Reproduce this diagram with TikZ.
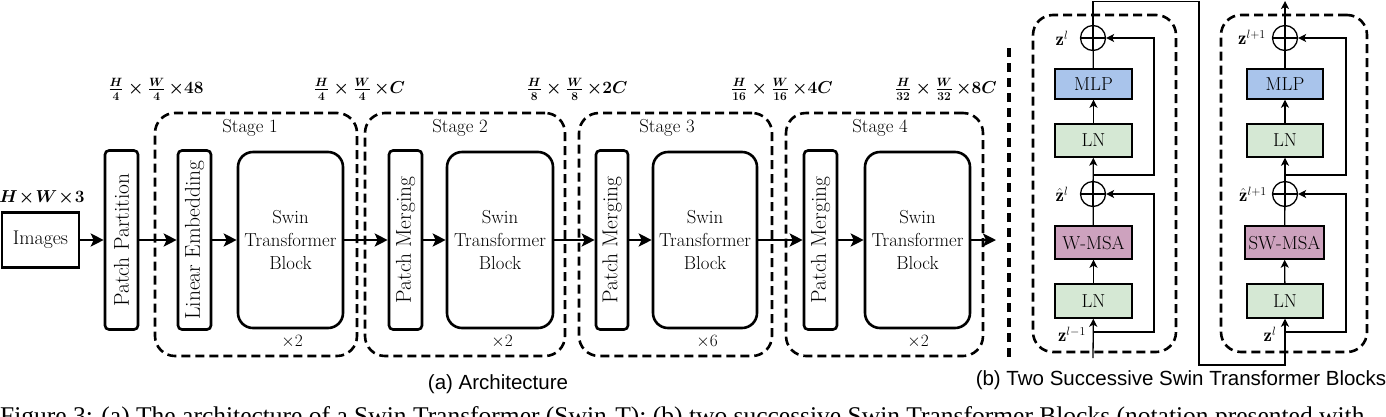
\documentclass[tikz,border=0pt]{standalone}
\usepackage{fontspec}
\newfontfamily\capsans{Liberation Sans}
\newfontfamily\capserif{Liberation Serif}
\usetikzlibrary{arrows.meta}
\definecolor{mlpblue}{HTML}{A9C4EB}
\definecolor{lngreen}{HTML}{D5E8D4}
\definecolor{msapink}{HTML}{CDA2BE}
\begin{document}
\begin{tikzpicture}[x=1pt,y=-1pt,
  every node/.style={font=\fontsize{18.8}{23}\selectfont, inner sep=0pt},
  thinbox/.style={draw, line width=2.6pt, rounded corners=4pt, minimum width=179pt, minimum height=33pt, rotate=90, font=\fontsize{21.5}{25}\selectfont},
  swinbox/.style={draw, line width=2.6pt, rounded corners=15pt, minimum width=105pt, minimum height=176pt, align=center},
  stagebox/.style={draw, line width=2.6pt, dash pattern=on 9pt off 5pt, rounded corners=20pt},
  arr/.style={line width=2.6pt, -{Stealth[length=13pt,width=13pt,inset=3pt]}},
  sarr/.style={line width=1.3pt, -{Stealth[length=8pt,width=8pt,inset=2pt]}},
  sline/.style={line width=1.3pt},
  opbox/.style={draw, line width=1.4pt, minimum width=77pt, minimum height=32pt},
  addc/.style={circle, draw, line width=1.3pt, minimum size=25pt,
    path picture={\draw[line width=1.3pt] (path picture bounding box.north) -- (path picture bounding box.south)
      (path picture bounding box.west) -- (path picture bounding box.east);}},
  dimlbl/.style={font=\fontsize{18.8}{23}\selectfont\boldmath},
  zlbl/.style={font=\fontsize{18.8}{23}\selectfont},
  caplbl/.style={font=\capsans\fontsize{20.5}{24}\selectfont}
]
\useasboundingbox (0,0) rectangle (1386,416);

% ---------- (a) Architecture ----------
\node[stagebox, minimum width=202pt, minimum height=243pt] (st1) at (256,234.5) {};
\node[stagebox, minimum width=200pt, minimum height=243pt] (st2) at (465,234.5) {};
\node[stagebox, minimum width=193pt, minimum height=243pt] (st3) at (675.5,234.5) {};
\node[stagebox, minimum width=197pt, minimum height=243pt] (st4) at (884.5,234.5) {};

\node (st1l) at (250,128) {Stage 1};
\node (st2l) at (460,128) {Stage 2};
\node (st3l) at (667,128) {Stage 3};
\node (st4l) at (880,128) {Stage 4};

\node[draw, line width=2.6pt, minimum width=77pt, minimum height=55pt, font=\fontsize{19.8}{23}\selectfont] (img) at (40.5,240) {Images};
\node[dimlbl] (imgd) at (42,198) {$H\!\times\! W\!\times\!3$};

\node[thinbox] (pp) at (121.5,240) {Patch Partition};
\node[thinbox] (le) at (194.5,240) {Linear Embedding};
\node[swinbox] (s1) at (290.5,240) {Swin\\Transformer\\Block};
\node[thinbox] (pm2) at (405.5,240) {Patch Merging};
\node[swinbox, minimum width=106pt] (s2) at (500,240) {Swin\\Transformer\\Block};
\node[thinbox, minimum height=32pt] (pm3) at (612,240) {Patch Merging};
\node[swinbox, minimum width=104pt] (s3) at (705,240) {Swin\\Transformer\\Block};
\node[thinbox] (pm4) at (820.5,240) {Patch Merging};
\node[swinbox] (s4) at (917.5,240) {Swin\\Transformer\\Block};
\coordinate (out) at (996,240);

\node (x1) at (292,342) {$\times2$};
\node (x2) at (502,342) {$\times2$};
\node (x3) at (707,342) {$\times6$};
\node (x4) at (918,342) {$\times2$};

\node[dimlbl] (d1) at (156,89) {$\frac{H}{4}\times\frac{W}{4}\,{\times}48$};
\node[dimlbl] (d2) at (359.5,89) {$\frac{H}{4}\times\frac{W}{4}\,{\times}C$};
\node[dimlbl] (d3) at (577,89) {$\frac{H}{8}\times\frac{W}{8}\,{\times}2C$};
\node[dimlbl] (d4) at (782,89) {$\frac{H}{16}\times\frac{W}{16}\,{\times}4C$};
\node[dimlbl] (d5) at (946,89) {$\frac{H}{32}\times\frac{W}{32}\,{\times}8C$};

\draw[arr] (img) -- (pp);
\draw[arr] (pp) -- (le);
\draw[arr] (le) -- (s1);
\draw[arr] (s1) -- (pm2);
\draw[arr] (pm2) -- (s2);
\draw[arr] (s2) -- (pm3);
\draw[arr] (pm3) -- (s3);
\draw[arr] (s3) -- (pm4);
\draw[arr] (pm4) -- (s4);
\draw[arr] (s4) -- (out);

% separator
\coordinate (sepT) at (1009,48);
\coordinate (sepB) at (1009,357);
\draw[line width=3.4pt, dash pattern=on 9pt off 6pt] (sepT) -- (sepB);

\node[caplbl] (capa) at (498,384) {(a) Architecture};
\node[caplbl] (capb) at (1181,380) {(b) Two Successive Swin Transformer Blocks};

% ---------- (b) blocks ----------
\node[stagebox, minimum width=143pt, minimum height=337pt] (blkL) at (1104.5,183.5) {};
\node[stagebox, minimum width=146pt, minimum height=337pt] (blkR) at (1294,183.5) {};

% left column
\node[addc] (a2) at (1093,38) {};
\node[opbox, fill=mlpblue, minimum height=30pt] (mlp1) at (1093.5,84) {MLP};
\node[opbox, fill=lngreen, minimum height=33pt] (ln1a) at (1093.5,140.5) {LN};
\node[addc] (a1) at (1093,194) {};
\node[opbox, fill=msapink, minimum height=33pt] (wmsa) at (1093.5,242.5) {W-MSA};
\node[opbox, fill=lngreen, minimum height=34pt] (ln1b) at (1093.5,301) {LN};
\coordinate (in1) at (1093,358);
\coordinate (br1) at (1093,332);
\coordinate (br2) at (1093,175);

\node[zlbl] (zl) at (1062,38) {$\mathbf{z}^{l}$};
\node[zlbl] (zhl) at (1062,194) {$\hat{\mathbf{z}}^{l}$};
\node[zlbl] (zlm) at (1072,334) {$\mathbf{z}^{l-1}$};

\draw[sarr] (in1) -- (ln1b);
\draw[sarr] (ln1b) -- (wmsa);
\draw[sline] (wmsa) -- (a1);
\draw[sarr] (a1) -- (ln1a);
\draw[sarr] (ln1a) -- (mlp1);
\draw[sline] (mlp1) -- (a2);
\draw[sarr] (br1) -- (1154,332) |- (a1.east);
\draw[sarr] (br2) -- (1154,175) |- (a2.east);

% right column
\node[addc] (a4) at (1285,38) {};
\node[opbox, fill=mlpblue, minimum width=76pt, minimum height=30pt] (mlp2) at (1285,84) {MLP};
\node[opbox, fill=lngreen, minimum width=76pt, minimum height=33pt] (ln2a) at (1285,140.5) {LN};
\node[addc] (a3) at (1285,194) {};
\node[opbox, fill=msapink, minimum width=79pt, minimum height=33pt] (swmsa) at (1284.5,242.5) {SW-MSA};
\node[opbox, fill=lngreen, minimum width=76pt, minimum height=34pt] (ln2b) at (1285,301) {LN};
\coordinate (br3) at (1285,332);
\coordinate (br4) at (1285,175);
\coordinate (top) at (1285,1);

\node[zlbl] (zl1) at (1252,37) {$\mathbf{z}^{l+1}$};
\node[zlbl] (zhl1) at (1253,194) {$\hat{\mathbf{z}}^{l+1}$};
\node[zlbl] (zl2) at (1270,334) {$\mathbf{z}^{l}$};

\draw[sarr] (a2.north) -- (1093,1.5) -- (1199,1.5) -- (1199,365) -- (1285,365) -- (ln2b.south);
\draw[sarr] (ln2b) -- (swmsa);
\draw[sline] (swmsa) -- (a3);
\draw[sarr] (a3) -- (ln2a);
\draw[sarr] (ln2a) -- (mlp2);
\draw[sline] (mlp2) -- (a4);
\draw[sarr] (a4) -- (top);
\draw[sarr] (br3) -- (1346,332) |- (a3.east);
\draw[sarr] (br4) -- (1346,175) |- (a4.east);

% cut-off figure caption
\node[anchor=base west, font=\capserif\fontsize{25.5}{28}\selectfont] (figcap) at (0,424) {Figure 3: (a) The architecture of a Swin Transformer (Swin-T); (b) two successive Swin Transformer Blocks (notation presented with};
\end{tikzpicture}
\end{document}
